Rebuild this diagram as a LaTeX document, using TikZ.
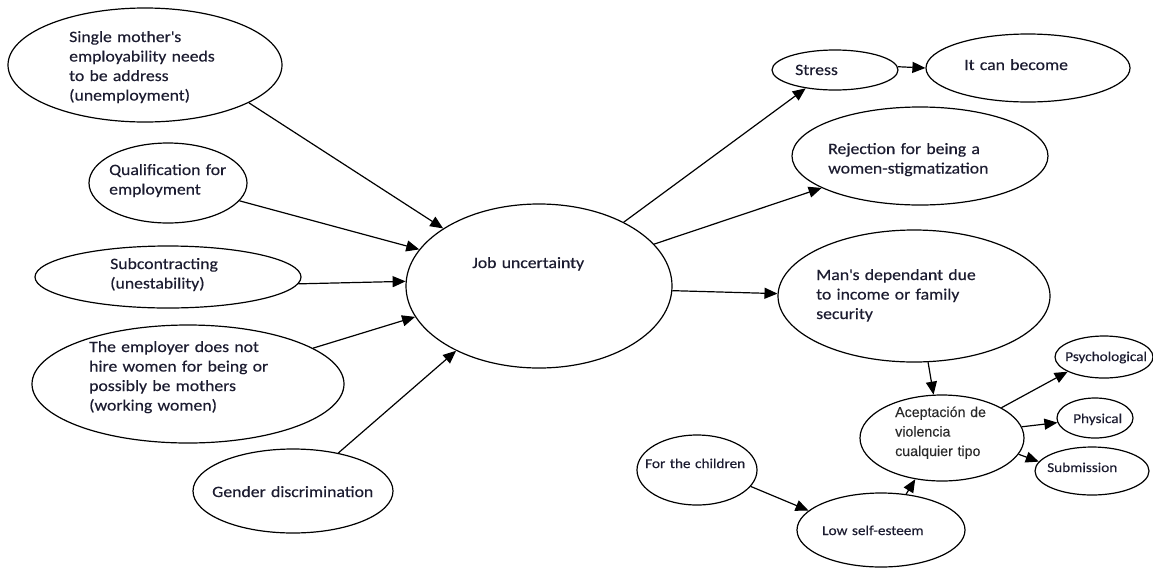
\documentclass[tikz,border=0pt]{standalone}
\usepackage{fontspec}
\setmainfont{Carlito}[FakeStretch=1.12, FakeBold=0.35]
\newfontfamily\arialish{Liberation Sans}[FakeBold=0.2]
\usetikzlibrary{shapes.geometric,arrows.meta}
\definecolor{ink}{RGB}{28,28,48}
\definecolor{grayink}{RGB}{40,40,40}
\newcommand{\apos}{\textquotesingle}
\tikzset{
  oval/.style={ellipse, draw=black, line width=1.2pt, inner sep=0pt},
  txt/.style={anchor=base west, inner sep=0pt, align=left, text width=9cm, text=ink,
    font=\fontsize{15.8}{19.5}\selectfont},
  smalltxt/.style={txt, font=\fontsize{13.6}{17}\selectfont},
  arialtxt/.style={txt, text=grayink, font=\arialish\fontsize{14.2}{19.5}\selectfont},
  link/.style={line width=1.2pt, -{Triangle[length=13pt,width=11pt]}}
}
\begin{document}
\begin{tikzpicture}[x=1pt,y=-1pt]
\useasboundingbox (0,0) rectangle (1153,571);

% left-hand causes
\node[oval, minimum width=274pt, minimum height=114pt] (sm) at (145,65) {};
\node[txt] (smt) at (69,42) {Single mother\apos s\\employability needs\\to be address\\(unemployment)};

\node[oval, minimum width=158pt, minimum height=80pt] (q) at (168,183) {};
\node[txt] (qt) at (109,175) {Qualification for\\employment};

\node[oval, minimum width=266pt, minimum height=62pt] (sc) at (168,277) {};
\node[txt] (sct) at (110,269) {Subcontracting\\(unestability)};

\node[oval, minimum width=312pt, minimum height=118pt] (em) at (188,384) {};
\node[txt] (emt) at (89,352) {The employer does not\\hire women for being or\\possibly be mothers\\(working women)};

\node[oval, minimum width=200pt, minimum height=84pt] (gd) at (293,491) {};
\node[txt] (gdt) at (212,497) {Gender discrimination};

% central node
\node[oval, minimum width=266pt, minimum height=164pt] (ju) at (539,286) {};
\node[txt] (jut) at (472,268) {Job uncertainty};

% consequences
\node[oval, minimum width=126pt, minimum height=40pt] (st) at (835,70) {};
\node[txt] (stt) at (795,75) {Stress};

\node[oval, minimum width=204pt, minimum height=68pt] (ic) at (1028,68) {};
\node[txt] (ict) at (964,70) {It can become};

\node[oval, minimum width=256pt, minimum height=98pt] (rj) at (920,156) {};
\node[txt] (rjt) at (828,154) {Rejection for being a\\women-stigmatization};

\node[oval, minimum width=272pt, minimum height=132pt] (md) at (914,296) {};
\node[txt] (mdt) at (816,280) {Man\apos s dependant due\\to income or family\\security};

\node[oval, minimum width=164pt, minimum height=86pt] (ac) at (942,438) {};
\node[arialtxt] (act) at (895,417) {Aceptación de\\violencia\\cualquier tipo};

\node[oval, minimum width=98pt, minimum height=42pt] (ps) at (1104,357) {};
\node[smalltxt] (pst) at (1065,361) {Psychological};

\node[oval, minimum width=76pt, minimum height=40pt] (ph) at (1095,418) {};
\node[smalltxt] (pht) at (1073,423) {Physical};

\node[oval, minimum width=114pt, minimum height=48pt] (su) at (1092,471) {};
\node[smalltxt] (sut) at (1047,472) {Submission};

\node[oval, minimum width=120pt, minimum height=70pt] (fc) at (697,470) {};
\node[smalltxt] (fct) at (645,468) {For the children};

\node[oval, minimum width=168pt, minimum height=74pt] (ls) at (881,530) {};
\node[smalltxt] (lst) at (822,535) {Low self-esteem};

% connectors
\draw[link] (sm.-20) -- (ju.149.6);
\draw[link] (q.-14.4) -- (ju.163.8);
\draw[link] (sc.-3) -- (ju.178.7);
\draw[link] (em.16.6) -- (ju.194.4);
\draw[link] (gd.40) -- (ju.218.3);

\draw[link] (ju.37.3) -- (st.212);
\draw[link] (ju.20.2) -- (rj.198.8);
\draw[link] (ju.-2) -- (md.179);
\draw[link] (st.3) -- (ic.180);

\draw[link] (md.-78) -- (ac.101);
\draw[link] (ac.27) -- (ps.202);
\draw[link] (ac.8) -- (ph.187.5);
\draw[link] (ac.-12) -- (su.170);

\draw[link] (fc.-17) -- (ls.165);
\draw[link] (ls.55.6) -- (ac.237);
\end{tikzpicture}
\end{document}
